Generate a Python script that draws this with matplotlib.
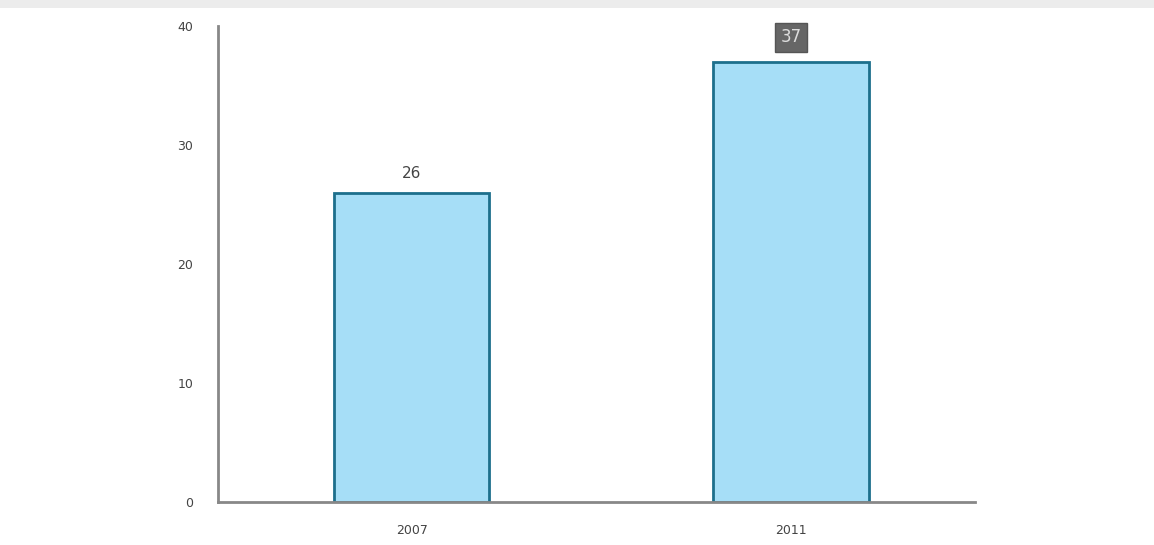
import matplotlib
matplotlib.use('Agg')
import matplotlib.pyplot as plt
from matplotlib.patches import Rectangle

years = ['2007', '2011']
values = [26, 37]
yticks = [0, 10, 20, 30, 40]

fig = plt.figure(figsize=(11.54, 5.45), dpi=100)
# faint grey strip along the top edge
fig.patches.append(Rectangle((0, 0.985), 1, 0.015, transform=fig.transFigure,
                             facecolor='#ececec', edgecolor='none'))
ax = fig.add_axes([0.189, 0.079, 0.656, 0.873])

x = range(len(years))
bars = ax.bar(x, values, width=0.41, color='#a6def7', edgecolor='#1d6f8c', linewidth=2)

ax.set_xlim(-0.51, 1.485)
ax.set_ylim(0, 40)
ax.set_xticks(list(x))
ax.set_xticklabels(years)
ax.set_yticks(yticks)

for s in ['top', 'right']:
    ax.spines[s].set_visible(False)
for s in ['left', 'bottom']:
    ax.spines[s].set_color('#888888')
    ax.spines[s].set_linewidth(2)
ax.tick_params(length=0, labelsize=9, colors='#444444')
ax.tick_params(axis='y', pad=18)
ax.tick_params(axis='x', pad=16)

ax.text(0, values[0] + 1.0, str(values[0]), ha='center', va='bottom',
        fontsize=11, color='#444444')
ax.text(1, values[1] + 1.3, str(values[1]), ha='center', va='bottom',
        fontsize=12, color='#dddddd',
        bbox=dict(boxstyle='square,pad=0.35', facecolor='#666666', edgecolor='#555555'))

fig.savefig('out.png', dpi=100)
